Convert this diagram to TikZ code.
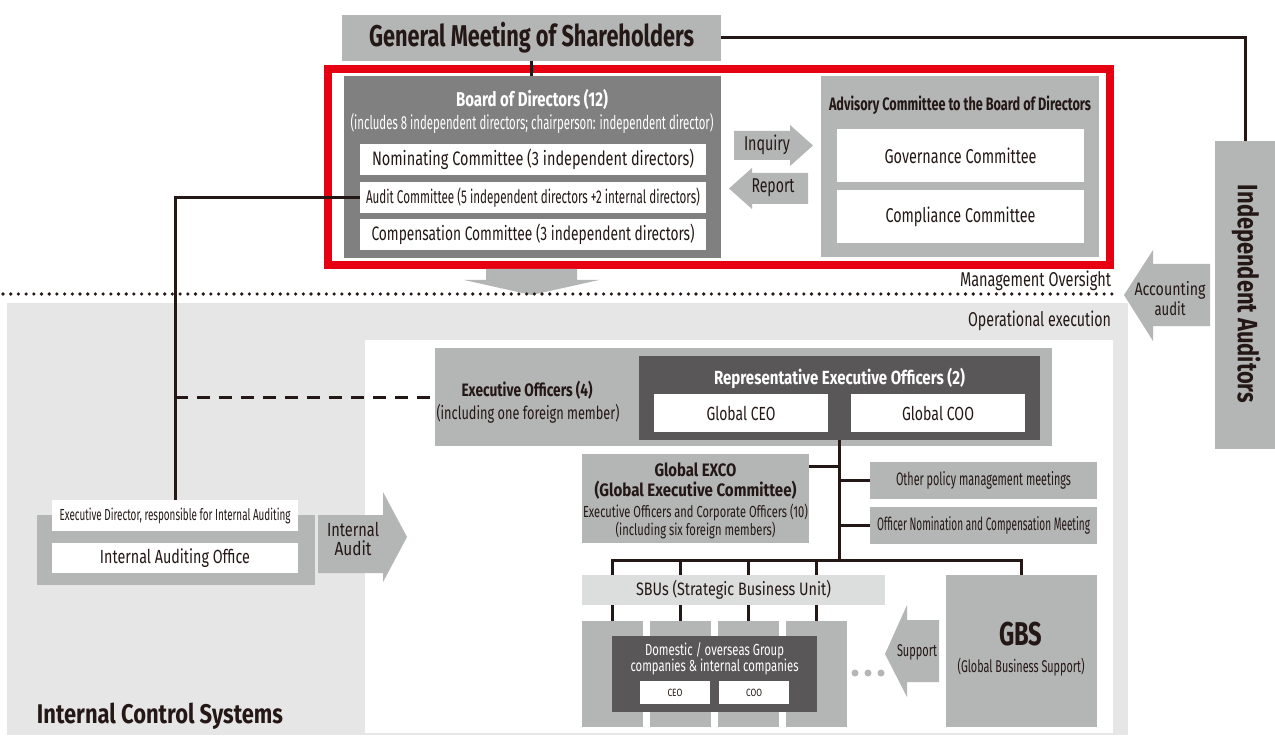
\documentclass[tikz,border=0pt]{standalone}
\usepackage{fontspec}
\setmainfont{Fira Sans}
\usepackage{graphicx}
\usetikzlibrary{fit}
\definecolor{cgray}{HTML}{B4B5B5}
\definecolor{cboard}{HTML}{808080}
\definecolor{cdark}{HTML}{595757}
\definecolor{clight}{HTML}{E6E6E6}
\definecolor{csbu}{HTML}{DCDDDD}
\definecolor{cred}{HTML}{E60012}
\definecolor{cink}{HTML}{231815}
\newcommand{\tw}[3]{\resizebox{#1pt}{\height}{\fontsize{#2pt}{#2pt}\selectfont #3}}
\newcommand{\bx}[5][]{\node[#1, fit={(#3)(#4)}] (#2) {};\node[#1, fill=none, inner sep=0pt] (#2-t) at (#2.center) {#5};}
\begin{document}
\begin{tikzpicture}[x=1pt,y=-1pt,
  box/.style={inner sep=0pt, outer sep=0pt, draw=none, text=cink},
  gbox/.style={box, fill=cgray},
  wbox/.style={box, fill=white},
  dbox/.style={box, fill=cdark, text=white},
  txt/.style={inner sep=0pt, outer sep=0pt, text=cink},
  conn/.style={draw=cink, line width=3pt},
  blockarrow/.style={fill=cgray}]
\fill[white] (0,0) rectangle (1275,738);
\useasboundingbox (0,0) rectangle (1275,738);

% zones
\bx[box, fill=clight]{opzone}{7,303}{1128,735}{}
\bx[box, fill=white]{execzone}{365,340}{1113,733}{}

% General meeting
\bx[gbox]{gms}{342,15}{721,61}{\tw{325}{30}{\bfseries General Meeting of Shareholders}}

% red frame
\node[draw=cred, line width=7.5pt, inner sep=0pt, outer sep=0pt, fit={(328,69)(1110,265)}] (redframe) {};

% Board
\bx[box, fill=cboard]{board}{344,76}{721,258}{}
\node[txt, text=white] (boardtitle) at (532,100) {\tw{152}{20}{\bfseries Board of Directors (12)}};
\node[txt, text=white] (boardsub) at (532,123) {\tw{363}{19}{(includes 8 independent directors; chairperson: independent director)}};
\bx[wbox]{nom}{360,144}{706,175}{\tw{322}{19.5}{Nominating Committee (3 independent directors)}}
\bx[wbox]{audit}{360,182}{706,213}{\tw{334}{18.5}{Audit Committee (5 independent directors +2 internal directors)}}
\bx[wbox]{comp}{360,219}{706,250}{\tw{323}{19.5}{Compensation Committee (3 independent directors)}}

% Inquiry / Report
\fill[blockarrow] (734,131) -- (790,131) -- (790,125) -- (813,145.5) -- (790,166) -- (790,160) -- (734,160) -- cycle;
\node[txt] (inq) at (767,145) {\tw{46}{20}{Inquiry}};
\fill[blockarrow] (808,173) -- (752,173) -- (752,168) -- (729,188.5) -- (752,209) -- (752,204) -- (808,204) -- cycle;
\node[txt] (rpt) at (773,188) {\tw{43}{20}{Report}};

% Advisory
\bx[gbox]{adv}{821,76}{1099,257}{}
\node[txt] (advtitle) at (960,105) {\tw{262}{18}{\bfseries Advisory Committee to the Board of Directors}};
\bx[wbox]{gov}{837,129}{1084,182}{\tw{152}{20}{Governance Committee}}
\bx[wbox]{compl}{837,190}{1084,243}{\tw{150}{20}{Compliance Committee}}

% down arrow
\fill[blockarrow] (486,269) -- (577,269) -- (577,280) -- (599,280) -- (531.5,295) -- (464,280) -- (486,280) -- cycle;

% dotted line
\coordinate (dotL) at (3,294);
\coordinate (dotR) at (1118,294);
\draw[cink, line width=3.6pt, line cap=round, dash pattern=on 0pt off 7.7pt] (dotL) -- (dotR);

\node[txt, anchor=east] (mo) at (1111,281) {\tw{151}{20}{Management Oversight}};
\node[txt, anchor=east] (oe) at (1111,321) {\tw{143}{20}{Operational execution}};

% Accounting audit
\fill[blockarrow] (1210,264) -- (1153,264) -- (1153,250) -- (1124,295) -- (1153,341) -- (1153,326) -- (1210,326) -- cycle;
\node[txt] (acc1) at (1170,290) {\tw{71}{18}{Accounting}};
\node[txt] (acc2) at (1170,309) {\tw{31}{18}{audit}};

% Independent auditors
\bx[gbox]{indep}{1215,141}{1275,449}{}
\node[txt, rotate=-90] (indept) at (1246,294) {\tw{218}{28}{\bfseries Independent Auditors}};

\draw[conn] (gms.east) -| (indep.north);
\draw[conn] (gms.south) -- (gms.south |- board.north);

% Internal audit
\bx[gbox]{iagroup}{37,515}{315,585}{}
\bx[wbox]{execdir}{52,500}{298,531}{\tw{231}{16}{Executive Director, responsible for Internal Auditing}}
\bx[wbox]{iao}{52,543}{298,573}{\tw{150}{19}{Internal Auditing Office}}
\fill[blockarrow] (318,515) -- (383,515) -- (383,492) -- (407,537) -- (383,582) -- (383,573) -- (318,573) -- cycle;
\node[txt] (ia1) at (353,529) {\tw{52}{19}{Internal}};
\node[txt] (ia2) at (353,548) {\tw{37}{19}{Audit}};
\node[txt, anchor=west] (ics) at (37,716) {\tw{246}{27}{\bfseries Internal Control Systems}};

% Executive officers
\bx[gbox]{exec}{435,348}{1052,446}{}
\node[txt] (exect) at (527,390) {\tw{131}{18}{\bfseries Executive Officers (4)}};
\node[txt] (execs) at (528,414) {\tw{183}{18}{(including one foreign member)}};
\bx[dbox]{rep}{639,356}{1040,440}{}
\node[txt, text=white] (rept) at (839.5,378) {\tw{251}{19}{\bfseries Representative Executive Officers (2)}};
\bx[wbox]{gceo}{654,394}{828,432}{\tw{69}{19}{Global CEO}}
\bx[wbox]{gcoo}{851,394}{1025,432}{\tw{72}{19}{Global COO}}

\draw[conn] (audit.west) -| (execdir.north);
\draw[conn, dash pattern=on 13pt off 9pt] (execdir.north |- exec.west) -- (exec.west);

% EXCO
\bx[gbox]{exco}{582,454}{809,543}{}
\node[txt] (exco1) at (695.5,470) {\tw{82}{18}{\bfseries Global EXCO}};
\node[txt] (exco2) at (695.5,490) {\tw{202}{18}{\bfseries (Global Executive Committee)}};
\node[txt] (exco3) at (695.5,512) {\tw{225}{16}{Executive Officers and Corporate Officers (10)}};
\node[txt] (exco4) at (695.5,530) {\tw{160}{16}{(including six foreign members)}};

\bx[gbox]{other}{870,462}{1097,499}{\tw{175}{18}{Other policy management meetings}}
\bx[gbox]{offnom}{870,507}{1097,544}{\tw{213}{18}{Officer Nomination and Compensation Meeting}}

% SBU
\bx[box, fill=csbu]{sbu}{582,575}{885,605}{\tw{195}{18}{SBUs (Strategic Business Unit)}}
\bx[gbox]{col1}{582,621}{643,727}{}
\bx[gbox]{col2}{650,621}{711,727}{}
\bx[gbox]{col3}{718,621}{779,727}{}
\bx[gbox]{col4}{786,621}{847,727}{}
\bx[dbox]{dom}{612,636}{817,712}{}
\node[txt, text=white] (dom1) at (714.5,651) {\tw{139}{16}{Domestic / overseas Group}};
\node[txt, text=white] (dom2) at (714.5,667) {\tw{168}{16}{companies \& internal companies}};
\bx[wbox]{sceo}{640,681}{710,704}{\tw{15}{10.5}{CEO}}
\bx[wbox]{scoo}{719,681}{789,704}{\tw{16}{10.5}{COO}}

\fill[cgray] (855,673) circle (3.5pt);
\fill[cgray] (868,673) circle (3.5pt);
\fill[cgray] (881,673) circle (3.5pt);

% Support
\fill[blockarrow] (939,620) -- (907,620) -- (907,605) -- (885,654) -- (907,697) -- (907,682) -- (939,682) -- cycle;
\node[txt] (sup) at (917,652) {\tw{40}{17}{Support}};

% GBS
\bx[gbox]{gbs}{946,575}{1097,727}{}
\node[txt] (gbst) at (1021,634) {\tw{43}{33}{\bfseries GBS}};
\node[txt] (gbss) at (1021,667) {\tw{127}{17}{(Global Business Support)}};

% tree connectors
\coordinate (bus) at (0,560);
\draw[conn] (rep.south) -- (bus -| rep.south);
\draw[conn] ([yshift=-12pt]exco.north east) -- ([yshift=-12pt]exco.north east -| rep.south);
\draw[conn] (other.west) -- (other.west -| rep.south);
\draw[conn] (offnom.west) -- (offnom.west -| rep.south);
\draw[conn] (sbu.north -| col1.north) |- (bus -| gbs.north) -- (gbs.north);
\draw[conn] (bus -| col2.north) -- (sbu.north -| col2.north);
\draw[conn] (bus -| col3.north) -- (sbu.north -| col3.north);
\draw[conn] (bus -| col4.north) -- (sbu.north -| col4.north);
\draw[conn] (sbu.south -| col1.north) -- (col1.north);
\draw[conn] (sbu.south -| col2.north) -- (col2.north);
\draw[conn] (sbu.south -| col3.north) -- (col3.north);
\draw[conn] (sbu.south -| col4.north) -- (col4.north);
\end{tikzpicture}
\end{document}
